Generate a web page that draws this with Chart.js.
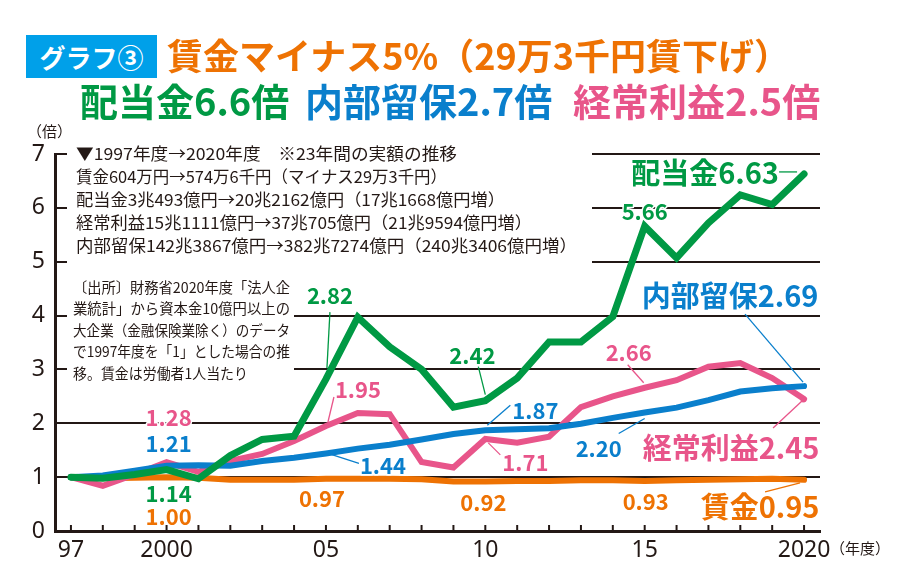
<!DOCTYPE html>
<html><head><meta charset="utf-8">
<script src="https://cdn.jsdelivr.net/npm/chart.js@4"></script>
<style>
html,body{margin:0;padding:0;background:#fff;}
#wrap{position:relative;width:901px;height:582px;overflow:hidden;font-family:"Noto Sans CJK JP",sans-serif;}
canvas{position:absolute;left:0;top:0;}
.h{position:absolute;white-space:nowrap;font-weight:bold;line-height:1;}
</style></head><body>
<div id="wrap">
<canvas id="c" width="901" height="582"></canvas>
<div class="h" style="left:26px;top:35px;width:131px;height:43px;background:#00a0e9;color:#fff;font-size:26px;line-height:43px;text-align:center;">グラフ③</div>
<div class="h" style="left:167px;top:36px;font-size:36px;color:#ee7203;">賃金マイナス5%（29万3千円賃下げ）</div>
<div class="h" style="left:80px;top:81px;font-size:38px;color:#009944;">配当金6.6倍</div>
<div class="h" style="left:305px;top:81px;font-size:38px;color:#0a7fcc;">内部留保2.7倍</div>
<div class="h" style="left:573px;top:81px;font-size:38px;color:#e8558a;">経常利益2.5倍</div>
<div class="h" style="left:27px;top:123px;font-size:15px;font-weight:normal;color:#231815;">（倍）</div>
<div class="h" style="left:830px;top:540px;font-size:15px;font-weight:normal;color:#231815;">（年度）</div>
</div>
<script>
// ---- data ----
const years = ['1997','1998','1999','2000','2001','2002','2003','2004','2005','2006','2007','2008','2009','2010','2011','2012','2013','2014','2015','2016','2017','2018','2019','2020'];
const xTickLabels = ['97','','','2000','','','','','05','','','','','10','','','','','15','','','','','2020'];
const yTickValues = [0,1,2,3,4,5,6,7];
const dividend = [1.00,0.98,1.05,1.14,0.97,1.40,1.70,1.76,2.82,3.97,3.42,3.00,2.30,2.42,2.84,3.51,3.51,3.98,5.66,5.07,5.72,6.24,6.06,6.63];
const retained = [1.00,1.03,1.12,1.21,1.22,1.21,1.30,1.36,1.44,1.53,1.60,1.70,1.80,1.87,1.89,1.91,1.99,2.10,2.20,2.29,2.43,2.59,2.65,2.69];
const profit   = [1.00,0.84,1.05,1.28,1.10,1.30,1.43,1.67,1.95,2.19,2.17,1.28,1.18,1.71,1.64,1.75,2.30,2.50,2.66,2.80,3.05,3.12,2.84,2.45];
const wage     = [1.00,0.98,0.99,1.00,0.99,0.95,0.95,0.95,0.97,0.97,0.97,0.96,0.92,0.92,0.93,0.93,0.94,0.94,0.93,0.94,0.95,0.96,0.97,0.95];
const seriesNames = ['配当金','内部留保','経常利益','賃金'];
const summaryLines = [
 '▼1997年度→2020年度　※23年間の実額の推移',
 '賃金604万円→574万6千円（マイナス29万3千円）',
 '配当金3兆493億円→20兆2162億円（17兆1668億円増）',
 '経常利益15兆1111億円→37兆705億円（21兆9594億円増）',
 '内部留保142兆3867億円→382兆7274億円（240兆3406億円増）'
];
const sourceLines = [
 '〔出所〕財務省2020年度「法人企',
 '業統計」から資本金10億円以上の',
 '大企業（金融保険業除く）のデータ',
 'で1997年度を「1」とした場合の推',
 '移。賃金は労働者1人当たり'
];

// ---- styles / layout ----
const ink = '#231815';
const colors = ['#009944','#0a7fcc','#e8558a','#ee7203'];
const JP = '"Noto Sans CJK JP", sans-serif';
const summaryWidths = [381,371,429,456,501];
const sourceWidths = [217,217,217,217,175];

// labels: dataset, index, prefix, label offset from point, pointer offsets
const labelSpecs = [
 {ds:0,i:8, pre:'', dx:4,  dy:-84, p:[4,-67,1,-11]},
 {ds:2,i:8, pre:'', dx:32, dy:-37, p:[8,-29,2,-4]},
 {ds:2,i:3, pre:'', dx:2,  dy:-45},
 {ds:1,i:3, pre:'', dx:2,  dy:-23},
 {ds:0,i:3, pre:'', dx:2,  dy:23},
 {ds:3,i:3, pre:'', dx:2,  dy:38},
 {ds:1,i:8, pre:'', dx:57, dy:11, p:[2,0,33,10]},
 {ds:3,i:8, pre:'', dx:-4, dy:19},
 {ds:0,i:13,pre:'', dx:-13,dy:-46, p:[-7,-34,0,-6]},
 {ds:1,i:13,pre:'', dx:50, dy:-21, p:[25,-25,2,-5]},
 {ds:2,i:13,pre:'', dx:40, dy:23, p:[15,16,3,4]},
 {ds:3,i:13,pre:'', dx:-2, dy:20},
 {ds:0,i:18,pre:'', dx:0,  dy:-16},
 {ds:2,i:18,pre:'', dx:-16,dy:-36, p:[-17,-23,-1,-5]},
 {ds:1,i:18,pre:'', dx:-46,dy:35, p:[-26,21,0,6]},
 {ds:3,i:18,pre:'', dx:1,  dy:20},
 {ds:0,i:23,pre:'配当金',  dx:-99,dy:-2, p:[-25,-2,-7,-2], big:true},
 {ds:1,i:23,pre:'内部留保',dx:-74,dy:-91, p:[-59,-72,-1,-4], big:true},
 {ds:2,i:23,pre:'経常利益',dx:-73,dy:48, p:[-31,29,-1,1], big:true, dot:true},
 {ds:3,i:23,pre:'賃金',    dx:-44,dy:26, p:[-39,12,-4,3], big:true}
];

function fitText(ctx, t, x, y, w){
  const m = ctx.measureText(t).width;
  ctx.save(); ctx.translate(x, y); ctx.scale(w / m, 1); ctx.fillText(t, 0, 0); ctx.restore();
}

const notesPlugin = {
  id:'notes',
  beforeDatasetsDraw(chart){
    const ctx = chart.ctx;
    ctx.save();
    ctx.fillStyle = '#fff';
    ctx.fillRect(67,142,525,127);
    ctx.fillRect(67,270,227,112);
    ctx.fillStyle = ink;
    ctx.textBaseline = 'middle';
    ctx.textAlign = 'left';
    ctx.font = '16.5px ' + JP;
    summaryLines.forEach((t,k)=>fitText(ctx,t,76,154+k*23,summaryWidths[k]));
    ctx.font = '14.5px ' + JP;
    sourceLines.forEach((t,k)=>fitText(ctx,t,73,287+k*21.5,sourceWidths[k]));
    ctx.restore();
  },
  afterDatasetsDraw(chart){
    const ctx = chart.ctx, xs = chart.scales.x, ys = chart.scales.y;
    ctx.save();
    // inward x tick marks
    ctx.strokeStyle = ink; ctx.lineWidth = 2;
    years.forEach((y,i)=>{
      const x = xs.getPixelForTick(i);
      ctx.beginPath(); ctx.moveTo(x, ys.bottom); ctx.lineTo(x, ys.bottom-6); ctx.stroke();
    });
    labelSpecs.forEach(s=>{
      const v = chart.data.datasets[s.ds].data[s.i];
      const px = xs.getPixelForValue(s.i), py = ys.getPixelForValue(v);
      const col = colors[s.ds];
      if (s.p){
        ctx.strokeStyle = col; ctx.lineWidth = 1.3;
        ctx.beginPath(); ctx.moveTo(px+s.p[0],py+s.p[1]); ctx.lineTo(px+s.p[2],py+s.p[3]); ctx.stroke();
        if (s.dot){ ctx.fillStyle = col; ctx.beginPath(); ctx.arc(px+s.p[2],py+s.p[3],2.5,0,Math.PI*2); ctx.fill(); }
      }
      const txt = s.pre + v.toFixed(2);
      ctx.font = 'bold ' + (s.big ? 29 : 22) + 'px ' + JP;
      ctx.textAlign = 'center'; ctx.textBaseline = 'middle';
      ctx.lineJoin = 'round';
      ctx.strokeStyle = '#fff'; ctx.lineWidth = 3;
      ctx.strokeText(txt, px+s.dx, py+s.dy+1);
      ctx.fillStyle = col;
      ctx.fillText(txt, px+s.dx, py+s.dy+1);
    });
    ctx.restore();
  }
};

const mk = (data, k, w) => ({
  label: seriesNames[k], data, borderColor: colors[k], backgroundColor: colors[k],
  borderWidth: w, pointRadius: 0, tension: 0, fill: false,
  borderCapStyle: 'round', borderJoinStyle: 'miter'
});

new Chart(document.getElementById('c'), {
  type: 'line',
  data: {
    labels: years,
    datasets: [mk(dividend,0,7), mk(retained,1,6), mk(profit,2,6), mk(wage,3,6)]
  },
  options: {
    responsive: false, animation: false, devicePixelRatio: 1,
    layout: { padding: { top: 154, right: 81, bottom: 0, left: 0 } },
    plugins: { legend: { display: false }, tooltip: { enabled: false }, title: { display: false } },
    scales: {
      x: {
        type: 'category', offset: true,
        grid: { display: true, drawOnChartArea: false, drawTicks: false },
        border: { display: true, color: ink, width: 3 },
        ticks: { autoSkip: false, maxRotation: 0, color: ink, padding: 6,
          font: { family: '"Noto Sans", sans-serif', size: 23 },
          callback: (v,i) => xTickLabels[i] },
        afterFit: s => { s.height = 51; }
      },
      y: {
        min: 0, max: 7,
        afterBuildTicks: s => { s.ticks = yTickValues.map(v => ({ value: v })); },
        grid: { color: ink, lineWidth: 2, drawTicks: false },
        border: { display: true, color: ink, width: 3 },
        ticks: { color: ink, padding: 10, font: { family: '"Noto Sans", sans-serif', size: 23 } },
        afterFit: s => { s.width = 55; }
      }
    }
  },
  plugins: [notesPlugin]
});
</script>
</body></html>
